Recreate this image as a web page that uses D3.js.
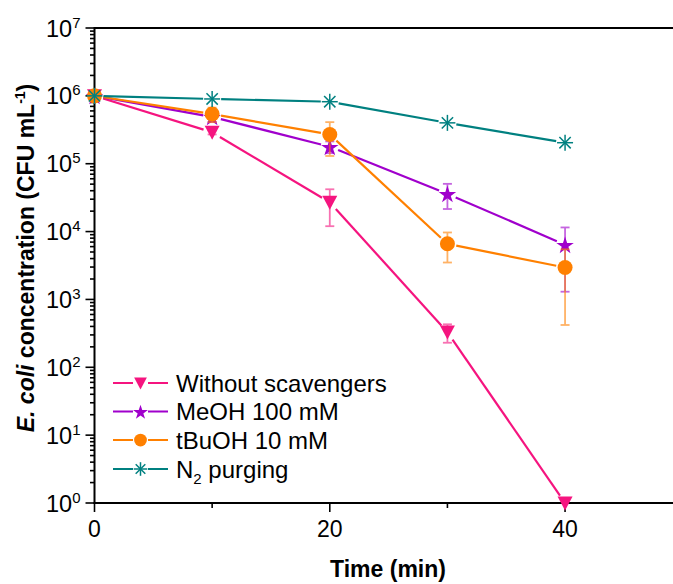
<!DOCTYPE html>
<html>
<head>
<meta charset="utf-8">
<script src="https://cdn.jsdelivr.net/npm/d3@7"></script>
<style>
  body { margin: 0; background: #fff; }
  text { font-family: "Liberation Sans", Arial, sans-serif; fill: #000; }
</style>
</head>
<body>
<div id="chart"></div>
<script>
const WIDTH = 673, HEIGHT = 584;

// data
const times = [0, 10, 20, 30, 40];
const seriesNames = ['Without scavengers', 'MeOH 100 mM', 'tBuOH 10 mM', 'N2 purging'];
const withoutScav = [1e6, 2.9e5, 2.7e4, 3.3e2, 1];
const withoutScavErr = [0, 0.2e5, 1.5e4, 1.0e2, 0];
const meoh = [1e6, 4.9e5, 1.78e5, 3.6e4, 6.4e3];
const meohErr = [0, 0.8e5, 0.35e5, 1.45e4, 5.1e3];
const tbuoh = [1e6, 5.4e5, 2.7e5, 6.6e3, 2.95e3];
const tbuohErr = [0, 1.3e5, 1.4e5, 3.1e3, 2.53e3];
const n2 = [1e6, 9.0e5, 8.2e5, 4.0e5, 2.04e5];
const xTicks = [0, 20, 40];
const yExponents = [0, 1, 2, 3, 4, 5, 6, 7];

const COLORS = ['#f5147f', '#a000cc', '#ff8000', '#008080'];
const SYMBOLS = ['tri', 'star', 'circle', 'aster'];

const series = [
  { name: seriesNames[0], values: withoutScav, err: withoutScavErr },
  { name: seriesNames[1], values: meoh, err: meohErr },
  { name: seriesNames[2], values: tbuoh, err: tbuohErr },
  { name: seriesNames[3], values: n2, err: null }
];

const x = d3.scaleLinear().domain([0, 50]).range([94.5, 94.5 + 588.2]);
const y = d3.scaleLog().domain([1, 1e7]).range([503, 28]);

const svg = d3.select('#chart').append('svg')
  .attr('width', WIDTH).attr('height', HEIGHT);

// top frame line
svg.append('line')
  .attr('x1', x(0)).attr('x2', WIDTH)
  .attr('y1', y(1e7)).attr('y2', y(1e7))
  .attr('stroke', '#000').attr('stroke-width', 2);

// y axis
const minorY = [];
for (let e = 0; e < 7; e++) for (let m = 2; m <= 9; m++) minorY.push(m * Math.pow(10, e));
const yAx = svg.append('g').attr('transform', `translate(${x(0)},0)`);
yAx.append('line').attr('x1', 0).attr('x2', 0).attr('y1', y(1e7) - 1).attr('y2', y(1) + 1)
  .attr('stroke', '#000').attr('stroke-width', 2);
yAx.selectAll('.ymin').data(minorY).join('line')
  .attr('x1', -4.5).attr('x2', 0).attr('y1', d => y(d)).attr('y2', d => y(d))
  .attr('stroke', '#000').attr('stroke-width', 1.6);
yAx.selectAll('.ymaj').data(yExponents).join('line')
  .attr('x1', -9).attr('x2', 0).attr('y1', d => y(Math.pow(10, d))).attr('y2', d => y(Math.pow(10, d)))
  .attr('stroke', '#000').attr('stroke-width', 1.6);
const yl = yAx.selectAll('.ylab').data(yExponents).join('text')
  .attr('x', -14).attr('y', d => y(Math.pow(10, d)) + 8.5)
  .attr('text-anchor', 'end').style('font-size', '23.5px');
yl.append('tspan').text('10');
yl.append('tspan').attr('dy', -9).style('font-size', '15px').text(d => d);

// x axis
const xAx = svg.append('g').attr('transform', `translate(0,${y(1)})`);
xAx.append('line').attr('x1', x(0) - 1).attr('x2', WIDTH).attr('y1', 0).attr('y2', 0)
  .attr('stroke', '#000').attr('stroke-width', 2);
xAx.selectAll('.xmin').data([10, 30]).join('line')
  .attr('x1', d => x(d)).attr('x2', d => x(d)).attr('y1', 0).attr('y2', 5)
  .attr('stroke', '#000').attr('stroke-width', 1.6);
xAx.selectAll('.xmaj').data(xTicks).join('line')
  .attr('x1', d => x(d)).attr('x2', d => x(d)).attr('y1', 0).attr('y2', 9)
  .attr('stroke', '#000').attr('stroke-width', 1.6);
xAx.selectAll('.xlab').data(xTicks).join('text')
  .attr('x', d => x(d)).attr('y', 34)
  .attr('text-anchor', 'middle').style('font-size', '23px').text(d => d);

// axis titles
svg.append('text').attr('x', 388).attr('y', 577)
  .attr('text-anchor', 'middle').style('font-size', '23px').style('font-weight', 'bold')
  .text('Time (min)');
const yt = svg.append('text').attr('transform', 'translate(34,258) rotate(-90)')
  .attr('text-anchor', 'middle').style('font-size', '23px').style('font-weight', 'bold');
yt.append('tspan').style('font-style', 'italic').text('E. coli');
yt.append('tspan').text(' concentration (CFU mL');
yt.append('tspan').attr('dy', -9).style('font-size', '14px').text('-1');
yt.append('tspan').attr('dy', 9).text(')');

// marker drawing
function marker(g, type, color, cx, cy, scale = 1) {
  if (type === 'tri') {
    const a = 7.5 * scale, b = 6.5 * scale;
    g.append('path').attr('d', `M${cx - a},${cy - b}L${cx + a},${cy - b}L${cx},${cy + a}Z`)
      .attr('fill', color);
  } else if (type === 'star') {
    g.append('path').attr('d', d3.symbol(d3.symbolStar, 95 * scale * scale)())
      .attr('transform', `translate(${cx},${cy + 1})`).attr('fill', color);
  } else if (type === 'circle') {
    g.append('circle').attr('cx', cx).attr('cy', cy).attr('r', 7.5 * scale).attr('fill', color);
  } else {
    const r = 8 * scale;
    [0, 45, 90, 135].forEach(a => {
      const dx = r * Math.cos(a * Math.PI / 180), dy = r * Math.sin(a * Math.PI / 180);
      g.append('line').attr('x1', cx - dx).attr('y1', cy - dy).attr('x2', cx + dx).attr('y2', cy + dy)
        .attr('stroke', color).attr('stroke-width', 1.5);
    });
  }
}

// series
const GAP = 9;
series.forEach((s, si) => {
  const g = svg.append('g');
  const pts = times.map((t, i) => [x(t), y(s.values[i])]);
  // connecting lines with gaps at markers
  for (let i = 0; i < pts.length - 1; i++) {
    const [x1, y1] = pts[i], [x2, y2] = pts[i + 1];
    const len = Math.hypot(x2 - x1, y2 - y1);
    const ux = (x2 - x1) / len, uy = (y2 - y1) / len;
    g.append('line')
      .attr('x1', x1 + ux * GAP).attr('y1', y1 + uy * GAP)
      .attr('x2', x2 - ux * GAP).attr('y2', y2 - uy * GAP)
      .attr('stroke', COLORS[si]).attr('stroke-width', 2.2);
  }
  // error bars
  if (s.err) {
    times.forEach((t, i) => {
      if (!s.err[i]) return;
      const hi = y(s.values[i] + s.err[i]);
      const lo = y(Math.max(s.values[i] - s.err[i], 0.5));
      const cx = x(t);
      const eg = g.append('g').attr('stroke', COLORS[si]).attr('stroke-width', 1.8).attr('opacity', 0.6);
      eg.append('line').attr('x1', cx).attr('x2', cx).attr('y1', hi).attr('y2', lo);
      eg.append('line').attr('x1', cx - 4.5).attr('x2', cx + 4.5).attr('y1', hi).attr('y2', hi);
      eg.append('line').attr('x1', cx - 4.5).attr('x2', cx + 4.5).attr('y1', lo).attr('y2', lo);
    });
  }
  pts.forEach(([px, py]) => marker(g, SYMBOLS[si], COLORS[si], px, py));
});

// legend
const legY = [383, 411.5, 440, 469];
series.forEach((s, si) => {
  const g = svg.append('g');
  const cy = legY[si];
  g.append('line').attr('x1', 113).attr('x2', 168).attr('y1', cy).attr('y2', cy)
    .attr('stroke', COLORS[si]).attr('stroke-width', 1.8);
  g.append('rect').attr('x', 133).attr('y', cy - 8).attr('width', 15).attr('height', 16).attr('fill', '#fff');
  marker(g, SYMBOLS[si], COLORS[si], 140.5, cy, 0.85);
  const t = g.append('text').attr('x', 176).attr('y', cy + 8.5).style('font-size', '24px');
  if (si === 3) {
    t.append('tspan').text('N');
    t.append('tspan').attr('dy', 6).style('font-size', '15px').text('2');
    t.append('tspan').attr('dy', -6).text(' purging');
  } else {
    t.text(s.name);
  }
});
</script>
</body>
</html>
